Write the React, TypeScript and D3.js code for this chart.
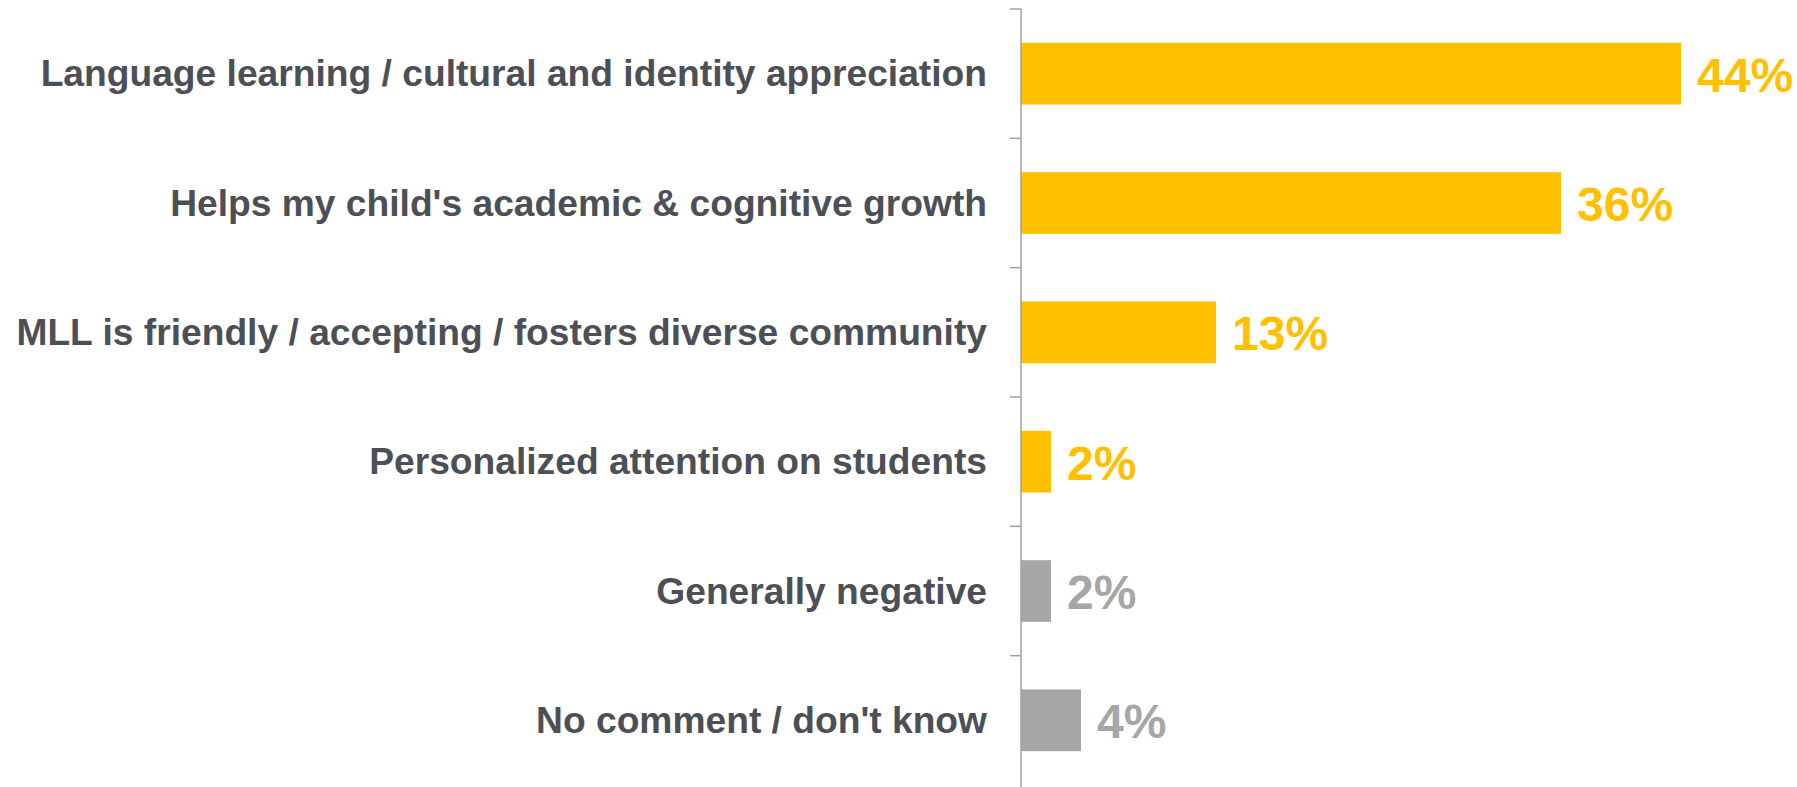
import React from "react";
import * as d3 from "d3";

const categories = [
  "Language learning / cultural and identity appreciation",
  "Helps my child's academic & cognitive growth",
  "MLL is friendly / accepting / fosters diverse community",
  "Personalized attention on students",
  "Generally negative",
  "No comment / don't know",
];
const values = [44, 36, 13, 2, 2, 4];
const valueLabels = ["44%", "36%", "13%", "2%", "2%", "4%"];
const positive = [true, true, true, true, false, false];

const W = 1797;
const H = 787;
const GOLD = "#FFC000";
const GRAY = "#A6A6A6";
const TEXT = "#4D4F57";
const AXIS = "#A0A0A0";

export default function App() {
  const x = d3.scaleLinear().domain([0, 44]).range([1021, 1681]);
  const pad = 0.523;
  const y = d3
    .scaleBand<string>()
    .domain(categories)
    .range([9, 785])
    .paddingInner(pad)
    .paddingOuter(pad / 2);
  const step = y.step();
  const bw = y.bandwidth();
  const tickYs = categories.map((c) => (y(c) as number) - (step * pad) / 2);

  return (
    <div style={{ position: "absolute", left: 0, top: 0 }}>
      <svg width={W} height={H} style={{ display: "block", background: "#fff" }}>
        <g>
          {categories.map((c, i) => {
            const yy = y(c) as number;
            const cy = yy + bw / 2;
            const col = positive[i] ? GOLD : GRAY;
            return (
              <g key={c}>
                <rect x={x(0)} y={yy} width={x(values[i]) - x(0)} height={bw} fill={col} />
                <text
                  x={987}
                  y={cy + 12.5}
                  textAnchor="end"
                  fontFamily="'Liberation Sans', Arial, sans-serif"
                  fontWeight="bold"
                  fontSize={37.2}
                  fill={TEXT}
                >
                  {c}
                </text>
                <text
                  x={x(values[i]) + 16}
                  y={cy + 18}
                  fontFamily="'Liberation Sans', Arial, sans-serif"
                  fontWeight="bold"
                  fontSize={48}
                  fill={col}
                >
                  {valueLabels[i]}
                </text>
              </g>
            );
          })}
          <line x1={x(0)} x2={x(0)} y1={9} y2={H} stroke={AXIS} strokeWidth={1.5} />
          {tickYs.map((t, i) => (
            <line key={i} x1={x(0) - 11} x2={x(0)} y1={t} y2={t} stroke={AXIS} strokeWidth={1.5} />
          ))}
        </g>
      </svg>
    </div>
  );
}
